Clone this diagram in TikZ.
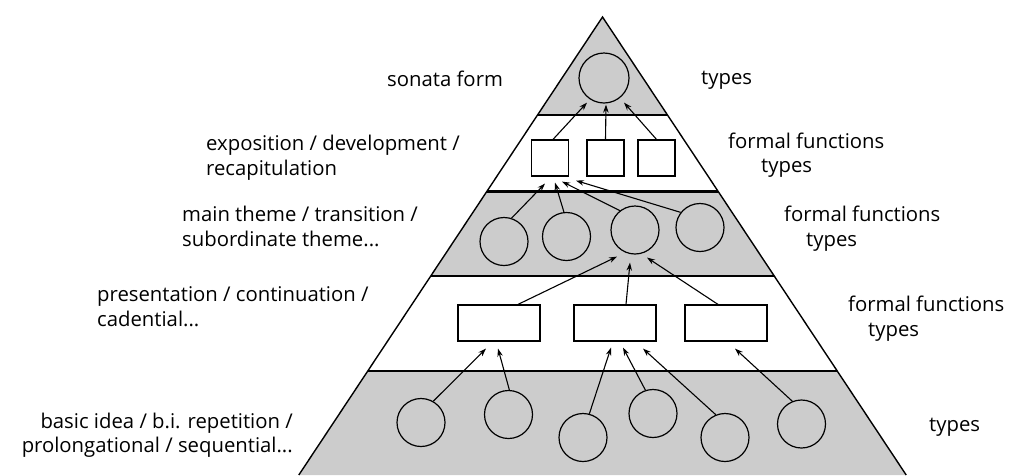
\documentclass[tikz,border=0pt]{standalone}
\usepackage{fontspec}
\setmainfont{Open Sans}
\usetikzlibrary{arrows.meta}
\definecolor{bandgray}{RGB}{204,204,204}

\begin{document}
\begin{tikzpicture}[x=1pt,y=-1pt,
    every node/.style={font=\fontsize{20.3}{24.5}\selectfont},
    unit/.style={circle,draw,line width=1.2pt,minimum size=48pt,inner sep=0pt},
    sect/.style={rectangle,draw,line width=1.2pt,minimum width=37pt,minimum height=36pt,inner sep=0pt},
    part/.style={rectangle,draw,line width=1.2pt,minimum width=82pt,minimum height=36pt,inner sep=0pt},
    lbl/.style={anchor=base west,align=left,inner sep=0pt},
    arr/.style={-{Stealth[length=8pt,width=5.5pt]},line width=1.1pt}]
    \useasboundingbox (0,0) rectangle (1009,475);

    % the pyramid and its bands
    \coordinate (apex) at (602.5,17);
    \coordinate (bl) at (298.8,475);
    \coordinate (br) at (906.2,475);
    \begin{scope}
      \clip (apex) -- (bl) -- (br) -- cycle;
      \fill[bandgray] (290,0) rectangle (920,115);
      \fill[bandgray] (290,191.5) rectangle (920,276);
      \fill[bandgray] (290,371) rectangle (920,480);
      \foreach \y in {115,191.5,276,371}
        \draw[line width=2.2pt] (290,\y) -- (920,\y);
    \end{scope}
    \draw[line width=1.4pt] (bl) -- (apex) -- (br);

    % units
    \node[unit,minimum size=50pt] (sf) at (604,78) {};

    \node[sect] (s1) at (550,158) {};
    \node[sect] (s2) at (605.5,158) {};
    \node[sect] (s3) at (656.5,158) {};

    \node[unit] (m1) at (504,241.5) {};
    \node[unit] (m2) at (566.5,236.5) {};
    \node[unit] (m3) at (635,230) {};
    \node[unit] (m4) at (700,227.5) {};

    \node[part] (p1) at (499,323) {};
    \node[part] (p2) at (615,323) {};
    \node[part] (p3) at (726,323) {};

    \node[unit] (b1) at (421,422.5) {};
    \node[unit] (b2) at (508.5,414.5) {};
    \node[unit] (b3) at (583,437.5) {};
    \node[unit] (b4) at (653,413.5) {};
    \node[unit] (b5) at (725,437.5) {};
    \node[unit] (b6) at (801.5,424) {};

    % arrows up the pyramid
    \path[arr] ([xshift=3pt]s1.north) edge ([shift={(-17,-1)}]sf.south);
    \path[arr] (s2.north) edge ([shift={(2,1)}]sf.south);
    \path[arr] (s3.north) edge ([shift={(20,-1)}]sf.south);

    \path[arr] (m1.72) edge ([shift={(-5,7)}]s1.south);
    \path[arr] (m2.96) edge ([shift={(5,6)}]s1.south);
    \path[arr] (m3.128) edge ([shift={(12,5)}]s1.south);
    \path[arr] (m4.142) edge ([shift={(26,4)}]s1.south);

    \path[arr] ([xshift=19pt]p1.north) edge ([shift={(-18,2)}]m3.south);
    \path[arr] ([xshift=11pt]p2.north) edge ([shift={(-5,8)}]m3.south);
    \path[arr] ([xshift=-8pt]p3.north) edge ([shift={(12,3)}]m3.south);

    \path[arr] (b1.60) edge ([shift={(-13,7)}]p1.south);
    \path[arr] (b2.88) edge ([shift={(-1,7)}]p1.south);
    \path[arr] (b3.75) edge ([shift={(-4,6)}]p2.south);
    \path[arr] (b4.108) edge ([shift={(8,6)}]p2.south);
    \path[arr] (b5.112) edge ([shift={(28,7)}]p2.south);
    \path[arr] (b6.112) edge ([shift={(9,7)}]p3.south);

    % labels, left (base is the last line)
    \node[lbl] (l1) at (387,86.7) {sonata form};
    \node[lbl] (l2) at (206,175.2) {exposition / development /\\recapitulation};
    \node[lbl] (l3) at (182,246.2) {main theme / transition /\\subordinate theme...};
    \node[lbl] (l4) at (97,326) {presentation / continuation /\\cadential...};
    \node[lbl,anchor=base east,align=right] (l5) at (293,452.8) {basic idea / b.i. repetition /\\prolongational / sequential...};

    % labels, right
    \node[lbl] (r1) at (701,84.5) {types};
    \node[lbl] (r2) at (728,172.8) {formal functions\\\hspace*{33pt}types};
    \node[lbl] (r3) at (784,246.2) {formal functions\\\hspace*{22pt}types};
    \node[lbl] (r4) at (848,336.2) {formal functions\\\hspace*{20pt}types};
    \node[lbl] (r5) at (929,431.7) {types};
  \end{tikzpicture}
\end{document}
